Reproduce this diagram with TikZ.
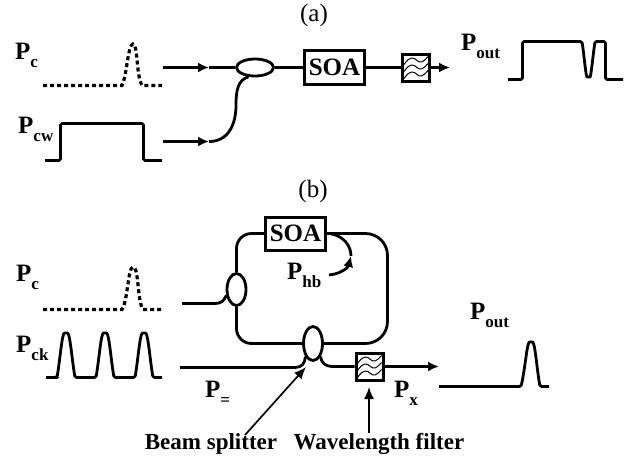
\documentclass[tikz,border=0pt]{standalone}
\usepackage{fontspec}
\setmainfont{Liberation Serif}
\usetikzlibrary{shapes.geometric,arrows.meta}
\newcommand{\powersub}[1]{\textbf{\fontsize{25pt}{25pt}\selectfont P\raisebox{-.32em}{\fontsize{17pt}{17pt}\selectfont #1}}}
\tikzset{
    fibre/.style={line width=2.8pt,line join=round},
    tipped/.style={fibre,-{Latex[length=11pt,width=10pt]}},
    pointer/.style={line width=1.7pt,-{Latex[length=12pt,width=10pt]}},
    pulse/.style={line width=2.8pt,line join=round,rounded corners=1.5pt},
    dottedpulse/.style={line width=3.2pt,dash pattern=on 4pt off 3pt},
    soabox/.style={draw,line width=3pt,fill=white,inner sep=0,minimum width=60pt,minimum height=34pt,font=\fontsize{25pt}{25pt}\selectfont\bfseries},
    coupler/.style={draw,ellipse,line width=2.8pt,fill=white,inner sep=0},
    filterbox/.style={draw,line width=3pt,fill=white,inner sep=0,minimum width=27pt,minimum height=27pt,
        path picture={\foreach \dy in {-7,0,7}
            \draw[line width=1pt,shift={(path picture bounding box.center)}] (-12,\dy+4) .. controls (-6,\dy-5) and (-2,\dy-3) .. (1,\dy) .. controls (4,\dy+3) and (7,\dy+2) .. (12,\dy-4);}},
    powerlabel/.style={anchor=base west,inner sep=0},
    caption/.style={inner sep=0,font=\fontsize{23pt}{23pt}\selectfont\bfseries},
    panel/.style={inner sep=0,font=\fontsize{25pt}{25pt}\selectfont}
}
\begin{document}
\begin{tikzpicture}[x=1pt,y=-1pt]
    \useasboundingbox (0,0) rectangle (632,459);
    % panel (a)
    \node[panel] (panela) at (314,15) {(a)};
    \node[powerlabel] (pca) at (15,59) {\powersub{c}};
    \node[powerlabel] (pcwa) at (18,133) {\powersub{cw}};
    \node[powerlabel] (pouta) at (461,50) {\powersub{out}};
    \draw[dottedpulse] (43,85.5) -- (122,85.5) .. controls (127,75) and (128,44) .. (133,44) .. controls (138,44) and (136,75) .. (142,85.5) -- (162,85.5);
    \draw[pulse] (45,160.5) -- (60.5,160.5) -- (60.5,123.5) -- (143.5,123.5) -- (143.5,160.5) -- (162,160.5);
    \draw[pulse] (508,79.5) -- (522.5,79.5) -- (522.5,41.5) -- (582,41.5) .. controls (584,55) and (586,77) .. (588.5,77) .. controls (591,77) and (593,55) .. (595,41.5) -- (605.5,41.5) -- (605.5,79.5) -- (623,79.5);
    \node[coupler,minimum width=37pt,minimum height=17pt] (couplera) at (255,67.5) {};
    \node[soabox] (soaa) at (334.5,67.5) {SOA};
    \node[filterbox] (filtera) at (416,67.5) {};
    \coordinate (ina) at (163,67.5);
    \coordinate (tipa) at (209,67.5);
    \coordinate (inb) at (163,141.5);
    \coordinate (tipb) at (209,141.5);
    \coordinate (outa) at (450,67.5);
    \draw[tipped] (ina) -- (tipa);
    \draw[fibre] (tipa) -- (couplera.west);
    \draw[tipped] (inb) -- (tipb);
    \draw[fibre] (tipb) .. controls (228,141.5) and (236,125) .. (236,105) .. controls (236,90) and (238,80) .. (couplera.-125);
    \draw[fibre] (couplera.east) -- (soaa.west);
    \draw[fibre] (soaa.east) -- (filtera.west);
    \draw[tipped] (filtera.east) -- (outa);
    % panel (b)
    \node[panel] (panelb) at (313,191) {(b)};
    \node[powerlabel] (pcb) at (16,281) {\powersub{c}};
    \node[powerlabel] (pckb) at (16,352) {\powersub{ck}};
    \node[powerlabel] (peqb) at (205,397) {\powersub{=}};
    \node[powerlabel] (phbb) at (287,279) {\powersub{hb}};
    \node[powerlabel] (poutb) at (470,319) {\powersub{out}};
    \node[powerlabel] (pxb) at (394,397) {\powersub{x}};
    \draw[dottedpulse] (43,309.5) -- (122,309.5) .. controls (128,300) and (128,267) .. (133,267) .. controls (139,267) and (137,300) .. (143,309.5) -- (163,309.5);
    \draw[pulse] (46,377.5) -- (56,377.5) foreach \px in {66,105,144} {-- (\px-9,377.5) .. controls (\px-6,360) and (\px-4,333) .. (\px,333) .. controls (\px+4,333) and (\px+6,360) .. (\px+9,377.5)} -- (162,377.5);
    \draw[pulse] (439,386.5) -- (521,386.5) .. controls (525,370) and (527,342) .. (531,342) .. controls (535,342) and (537,370) .. (540,386.5) -- (549,386.5);
    \node[soabox,minimum height=33pt] (soab) at (295.5,233.5) {SOA};
    \node[coupler,minimum width=19pt,minimum height=32pt] (splita) at (236.5,289.5) {};
    \node[coupler,minimum width=19pt,minimum height=34pt] (splitb) at (313,343.5) {};
    \node[filterbox] (filterb) at (369.5,366.5) {};
    \node[caption] (beamtext) at (211,444) {Beam splitter};
    \node[caption] (filtertext) at (379,444) {Wavelength filter};
    \coordinate (loopcorner) at (387.5,233.5);
    \coordinate (inc) at (182,303.5);
    \coordinate (ind) at (180,367.5);
    \coordinate (outb) at (439,366.5);
    \coordinate (hbfrom) at (330,233.5);
    \coordinate (hbtip) at (351,256);
    \coordinate (hbstart) at (329,275);
    \coordinate (beamfoot) at (245,435);
    \coordinate (beamtip) at (306,367);
    \coordinate (filterfoot) at (369,433);
    \coordinate (filtertip) at (369,387);
    \draw[fibre,rounded corners=15pt] (soab.west) -- (splita.north |- soab.west) -- (splita.north);
    \draw[fibre,rounded corners=15pt] (splita.south) -- (splita.south |- splitb.west) -- (splitb.west);
    \draw[fibre,rounded corners=22pt] (soab.east) -- (loopcorner) -- (loopcorner |- splitb.east) -- (splitb.east);
    \draw[fibre] (inc) -- (215,303.5) .. controls (221,303.5) and (224,301) .. (splita.-150);
    \draw[fibre] (ind) -- (295,367.5) .. controls (302,367.5) and (305,363) .. (splitb.-120);
    \draw[fibre] (splitb.-60) .. controls (321,362) and (325,366.5) .. (332,366.5) -- (filterb.west);
    \draw[tipped] (filterb.east) -- (outb);
    \draw[fibre] (hbfrom) .. controls (344,236) and (351,246) .. (hbtip);
    \draw[tipped] (hbstart) .. controls (340,274) and (348,268) .. (hbtip);
    \draw[pointer] (beamfoot) -- (beamtip);
    \draw[pointer] (filterfoot) -- (filtertip);
\end{tikzpicture}
\end{document}
